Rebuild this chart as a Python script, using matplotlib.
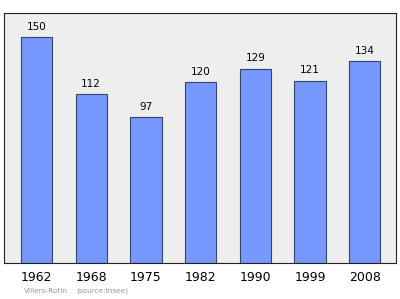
import matplotlib
matplotlib.use("Agg")
from matplotlib import pyplot as plt

years = ['1962', '1968', '1975', '1982', '1990', '1999', '2008']
population = [150, 112, 97, 120, 129, 121, 134]

fig = plt.figure(figsize=(4, 2.99), dpi=100)
ax = fig.add_axes([0.01, 0.12, 0.98, 0.837])
ax.set_facecolor('#eeeeee')

x = list(range(len(years)))
ax.bar(x, population, width=0.57, color='#7799ff', edgecolor='#334466', linewidth=0.8)
for xi, v in zip(x, population):
	ax.text(xi, v + 3.5, str(v), ha='center', va='bottom', fontsize=7.5)

ax.set_xlim(-0.594, 6.57)
ax.set_ylim(0, 166)
ax.set_yticks([])
ax.set_xticks(x)
ax.set_xticklabels(years, fontsize=9)
ax.tick_params(axis='x', length=0, pad=6)
for s in ax.spines.values():
	s.set_color('#222222')
	s.set_linewidth(0.8)

fig.text(24 / 400, 1 - 291 / 299, 'Villers-Rotin', fontsize=5.3, color='#999999', va='center')
fig.text(76 / 400, 1 - 291 / 299, '(source:Insee)', fontsize=5.3, color='#999999', va='center')

fig.savefig('out.png', dpi=100)
